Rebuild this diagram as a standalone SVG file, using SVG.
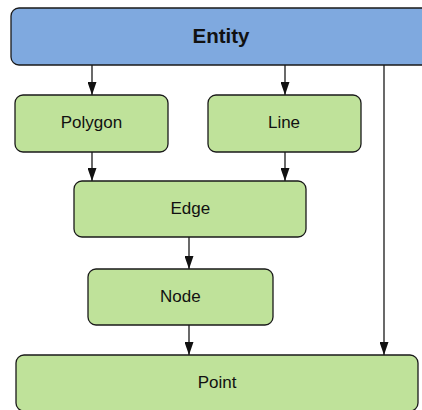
<svg xmlns="http://www.w3.org/2000/svg" width="422" height="410" viewBox="0 0 422 410">
<style>
.node rect{stroke:#1a1a1a;stroke-width:1.3}
.g rect{fill:#bfe29a}
.b rect{fill:#7fa9df}
text{font-family:"Liberation Sans",Arial,sans-serif;font-size:17px;fill:#111;text-anchor:middle}
.conn path{stroke:#1a1a1a;stroke-width:1.3;fill:none;marker-end:url(#ah)}
</style>
<defs>
<marker id="ah" viewBox="0 0 10 10" refX="10" refY="5" markerWidth="13" markerHeight="9" markerUnits="userSpaceOnUse" orient="auto" preserveAspectRatio="none">
<path d="M0,0 L10,5 L0,10 Z" fill="#111"/>
</marker>
</defs>
<rect width="422" height="410" fill="#fff"/>
<g class="conn">
<path d="M92,65 V95"/>
<path d="M285,65 V95"/>
<path d="M384,65 V355"/>
<path d="M92,152 V181"/>
<path d="M285,152 V181"/>
<path d="M189,237 V269"/>
<path d="M189,325 V355"/>
</g>
<g id="entity" class="node b"><rect x="11" y="8" width="430" height="57" rx="8"/><text x="221" y="42.7" style="font-size:20.5px;font-weight:bold">Entity</text></g>
<g id="polygon" class="node g"><rect x="15" y="95" width="153" height="57" rx="8"/><text x="91.5" y="127.7">Polygon</text></g>
<g id="line" class="node g"><rect x="208" y="95" width="153" height="57" rx="8"/><text x="284" y="127.7">Line</text></g>
<g id="edge" class="node g"><rect x="74" y="181" width="232" height="56" rx="8"/><text x="190.3" y="213.7">Edge</text></g>
<g id="node" class="node g"><rect x="88" y="269" width="185" height="56" rx="8"/><text x="180.3" y="302">Node</text></g>
<g id="point" class="node g"><rect x="16" y="355" width="402" height="56" rx="8"/><text x="217" y="388.3">Point</text></g>
</svg>
